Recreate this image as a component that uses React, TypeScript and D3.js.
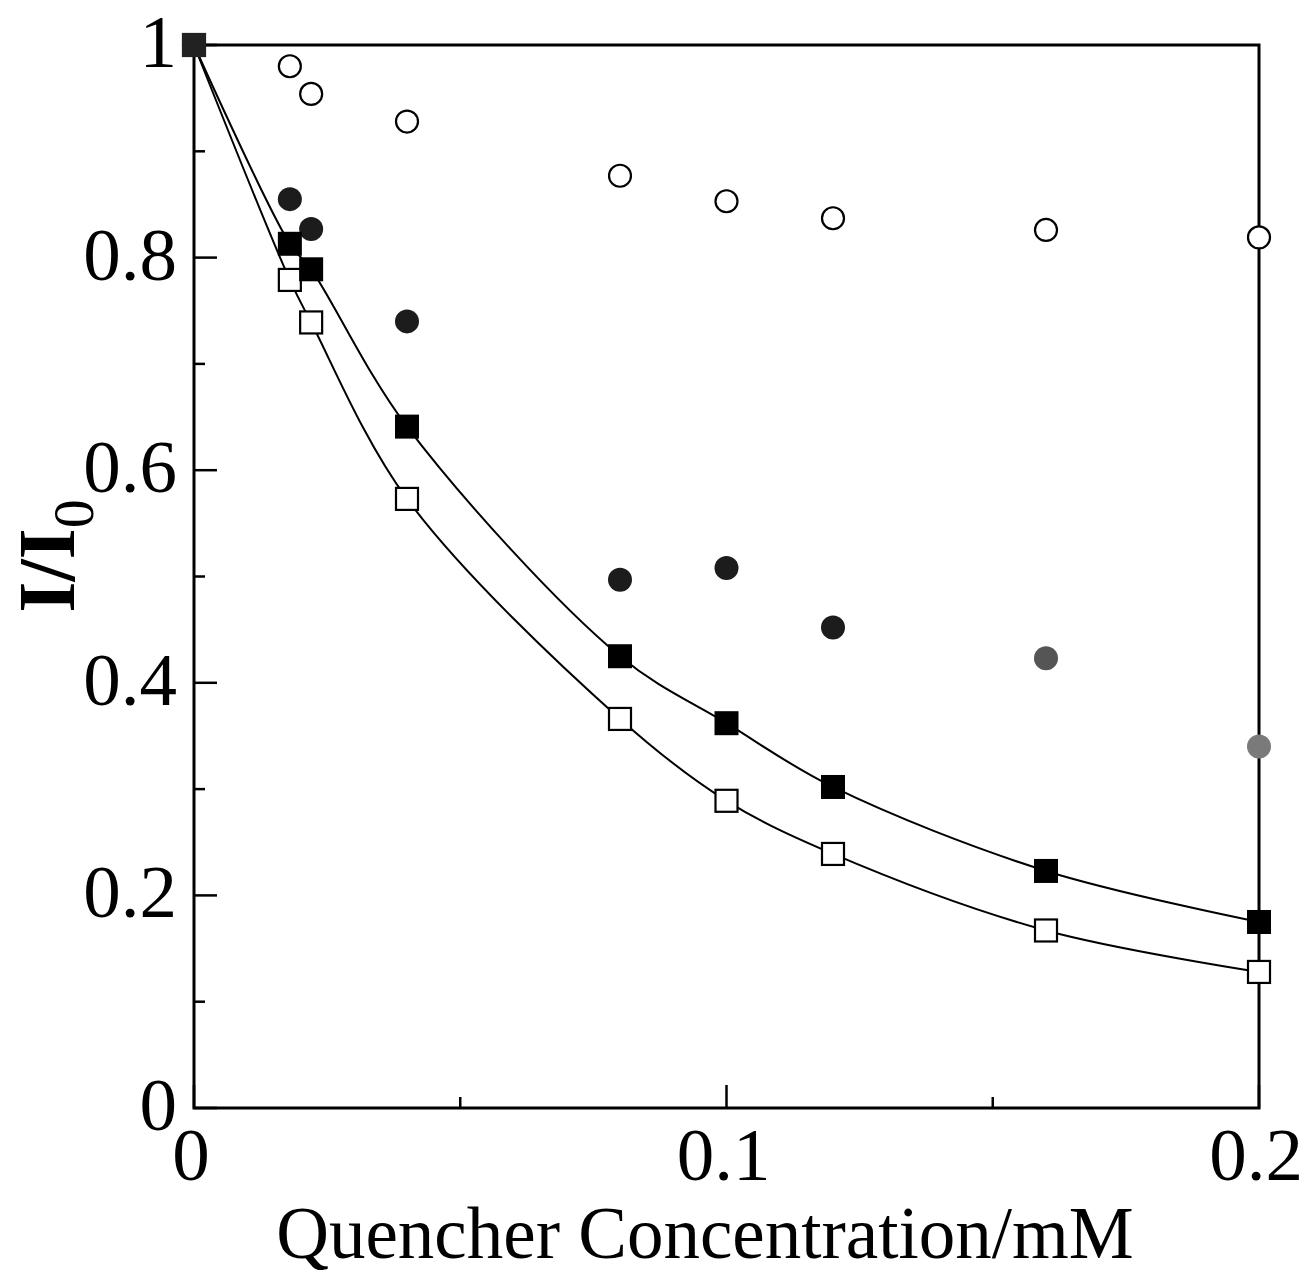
import React from "react";
import * as d3 from "d3";

const concentrations = [0, 0.018, 0.022, 0.04, 0.08, 0.1, 0.12, 0.16, 0.2];
const openCircleValues = [1, 0.98, 0.954, 0.928, 0.877, 0.853, 0.837, 0.826, 0.819];
const filledCircleValues = [1, 0.855, 0.827, 0.74, 0.497, 0.508, 0.452, 0.423, 0.34];
const filledSquareValues = [1, 0.813, 0.789, 0.641, 0.425, 0.362, 0.302, 0.223, 0.175];
const openSquareValues = [1, 0.779, 0.739, 0.573, 0.366, 0.289, 0.239, 0.167, 0.128];

const xMajorTicks = [0, 0.1, 0.2];
const xMinorTicks = [0.05, 0.15];
const xTickLabels = ["0", "0.1", "0.2"];
const yMajorTicks = [0, 0.2, 0.4, 0.6, 0.8, 1];
const yMinorTicks = [0.1, 0.3, 0.5, 0.7, 0.9];
const yTickLabels = ["0", "0.2", "0.4", "0.6", "0.8", "1"];

const xLabel = "Quencher Concentration/mM";

export default function App() {
  const W = 1309;
  const H = 1273;
  const left = 194, right = 1259, top = 45, bottom = 1108;
  const x = d3.scaleLinear().domain([0, 0.2]).range([left, right]);
  const y = d3.scaleLinear().domain([0, 1]).range([bottom, top]);
  const font = "'Liberation Serif', 'Times New Roman', Times, serif";

  const line = d3
    .line<number>()
    .x((_, i) => x(concentrations[i]))
    .y((v) => y(v))
    .curve(d3.curveCatmullRom.alpha(0.5));

  const circleShade = (i: number) => (i >= 8 ? "#7a7a7a" : i >= 7 ? "#555" : "#1c1c1c");
  const sq = 24;
  const r = 12;

  return (
    <svg
      width={W}
      height={H}
      style={{ position: "absolute", left: 0, top: 0, display: "block", background: "#fff" }}
      fontFamily={font}
    >
      <rect x={0} y={0} width={W} height={H} fill="#fff" />
      {/* frame */}
      <rect x={left} y={top} width={right - left} height={bottom - top} fill="none" stroke="#000" strokeWidth={3} />
      {/* y ticks */}
      {yMajorTicks.map((t) => (
        <line key={"ym" + t} x1={left} x2={left + 23} y1={y(t)} y2={y(t)} stroke="#000" strokeWidth={2.5} />
      ))}
      {yMinorTicks.map((t) => (
        <line key={"yn" + t} x1={left} x2={left + 11} y1={y(t)} y2={y(t)} stroke="#000" strokeWidth={2.5} />
      ))}
      {/* x ticks */}
      {xMajorTicks.map((t) => (
        <line key={"xm" + t} x1={x(t)} x2={x(t)} y1={bottom} y2={bottom - 23} stroke="#000" strokeWidth={2.5} />
      ))}
      {xMinorTicks.map((t) => (
        <line key={"xn" + t} x1={x(t)} x2={x(t)} y1={bottom} y2={bottom - 11} stroke="#000" strokeWidth={2.5} />
      ))}
      {/* y tick labels */}
      {yMajorTicks.map((t, i) => (
        <text key={"yl" + t} x={177} y={y(t) + 22} fontSize={75} textAnchor="end" fill="#000">
          {yTickLabels[i]}
        </text>
      ))}
      {/* x tick labels */}
      {xMajorTicks.map((t, i) => (
        <text key={"xl" + t} x={x(t) - 3} y={1180} fontSize={75} textAnchor="middle" fill="#000">
          {xTickLabels[i]}
        </text>
      ))}
      {/* axis titles */}
      <text x={705} y={1258} fontSize={73} textAnchor="middle" fill="#000">
        {xLabel}
      </text>
      <text transform="translate(74,556) rotate(-90)" fontSize={80} fontWeight="bold" textAnchor="middle" fill="#000">
        I/I
        <tspan fontSize={58} fontWeight="normal" dy={19}>
          0
        </tspan>
      </text>
      {/* fitted curves */}
      <path d={line(filledSquareValues) || ""} fill="none" stroke="#000" strokeWidth={2} />
      <path d={line(openSquareValues) || ""} fill="none" stroke="#000" strokeWidth={2} />
      {/* circles */}
      {openCircleValues.map((v, i) => (
        <circle key={"oc" + i} cx={x(concentrations[i])} cy={y(v)} r={r - 1} fill="#fff" stroke="#000" strokeWidth={2.2} />
      ))}
      {filledCircleValues.map((v, i) => (
        <circle key={"fc" + i} cx={x(concentrations[i])} cy={y(v)} r={r} fill={circleShade(i)} stroke="none" />
      ))}
      {/* squares */}
      {openSquareValues.map((v, i) => (
        <rect
          key={"os" + i}
          x={x(concentrations[i]) - sq / 2 + 1}
          y={y(v) - sq / 2 + 1}
          width={sq - 2}
          height={sq - 2}
          fill="#fff"
          stroke="#000"
          strokeWidth={2.2}
        />
      ))}
      {filledSquareValues.map((v, i) => (
        <rect key={"fs" + i} x={x(concentrations[i]) - sq / 2} y={y(v) - sq / 2} width={sq} height={sq} fill={i === 0 ? "#222" : "#000"} />
      ))}
    </svg>
  );
}
